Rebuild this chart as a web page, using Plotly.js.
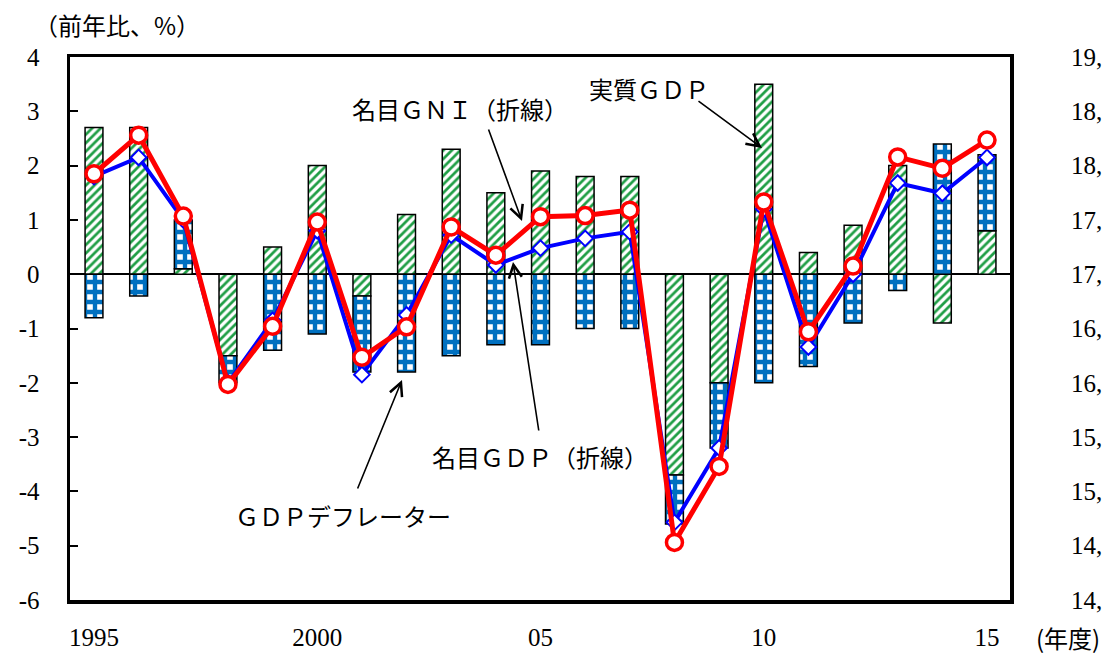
<!DOCTYPE html>
<html>
<head>
<meta charset="utf-8">
<script src="https://cdn.plot.ly/plotly-3.0.1.min.js"></script>
<style>html,body{margin:0;padding:0;background:#fff;}#chart{width:1103px;height:659px;}</style>
</head>
<body>
<div id="chart"></div>
<script>
// Fiscal years
var years = [1995,1996,1997,1998,1999,2000,2001,2002,2003,2004,2005,2006,2007,2008,2009,2010,2011,2012,2013,2014,2015];
// Real GDP growth (%), green hatched bars
var realGDP = [2.7,2.7,0.1,-1.5,0.5,2.0,-0.4,1.1,2.3,1.5,1.9,1.8,1.8,-3.7,-2.0,3.5,0.4,0.9,2.0,-0.9,0.8];
// GDP deflator (%), blue checkered bars
var deflator = [-0.8,-0.4,0.9,-0.5,-1.4,-1.1,-1.4,-1.8,-1.5,-1.3,-1.3,-1.0,-1.0,-0.9,-1.2,-2.0,-1.7,-0.9,-0.3,2.4,1.4];
// Nominal GDP (%), blue line
var nominalGDP = [1.8,2.15,1.0,-2.0,-0.85,0.8,-1.85,-0.75,0.72,0.17,0.48,0.66,0.78,-4.57,-3.2,1.2,-1.34,0.0,1.68,1.49,2.15];
// Nominal GNI (%), red line
var nominalGNI = [1.85,2.56,1.07,-2.03,-0.96,0.96,-1.53,-0.97,0.87,0.35,1.06,1.08,1.18,-4.94,-3.54,1.33,-1.06,0.15,2.16,1.95,2.47];

var xTickVals = [1995,2000,2005,2010,2015];
var xTickText = ['1995','2000','05','10','15'];
var yTickVals = [-6,-5,-4,-3,-2,-1,0,1,2,3,4];
var yTickText = ['-6','-5','-4','-3','-2','-1','0','1','2','3','4'];
// right-hand axis: only the visible part of each label is shown in the source
var y2TickText = ['14,','14,','15,','15,','16,','16,','17,','17,','18,','18,','19,'];

var numFont = {family:'Liberation Serif, serif', size:25, color:'#000'};
var jpFont = {family:'Noto Sans CJK JP, sans-serif', size:24, color:'#000'};

var traces = [
  {type:'bar', x:years, y:realGDP, width:0.4, name:'実質GDP',
   marker:{color:'#ffffff', line:{color:'#000', width:1.5},
     pattern:{shape:'/', fgcolor:'#1f9e45', bgcolor:'#ffffff', size:6, solidity:0.45}}},
  {type:'bar', x:years, y:deflator, width:0.4, name:'GDPデフレーター',
   marker:{color:'#ffffff', line:{color:'#000', width:1.5},
     pattern:{shape:'+', fgcolor:'#0070c0', bgcolor:'#ffffff', size:10, solidity:0.68}}},
  {type:'scatter', mode:'lines+markers', x:years, y:nominalGDP, name:'名目GDP',
   line:{color:'#0000ff', width:4},
   marker:{symbol:'diamond', size:12, color:'#ffffff', line:{color:'#0000ff', width:2}}},
  {type:'scatter', mode:'lines+markers', x:years, y:nominalGNI, name:'名目GNI',
   line:{color:'#ff0000', width:5},
   marker:{symbol:'circle', size:16, color:'#ffffff', line:{color:'#ff0000', width:3.5}}},
  // empty trace so the right-hand axis is drawn
  {type:'scatter', x:[null], y:[null], yaxis:'y2', showlegend:false, hoverinfo:'skip', mode:'markers'}
];

function px(x){return (x-70)/940;}
function py(y){return (600-y)/543;}

function arrow(hx,hy,tx,ty){
  return {xref:'paper', yref:'paper', x:px(hx), y:py(hy), ax:tx-hx, ay:ty-hy,
    axref:'pixel', ayref:'pixel', text:'', showarrow:true, arrowhead:5, arrowsize:1.6,
    arrowwidth:1.6, arrowcolor:'#000'};
}
function label(t,x,y,f,anchor){
  return {xref:'paper', yref:'paper', x:px(x), y:py(y), text:t, showarrow:false,
    xanchor:anchor||'center', yanchor:'middle', font:f||jpFont};
}

var layout = {
  width:1103, height:659,
  margin:{l:70, r:93, t:57, b:59},
  paper_bgcolor:'#fff', plot_bgcolor:'#fff',
  barmode:'relative', showlegend:false,
  xaxis:{range:[1994.4625,2015.515], tickvals:xTickVals, ticktext:xTickText,
    showgrid:false, zeroline:false, showline:true, mirror:true, linecolor:'#000', linewidth:3.5,
    ticks:'', ticklabelstandoff:12, tickfont:numFont},
  yaxis:{range:[-6,4], tickvals:yTickVals, ticktext:yTickText, showgrid:false,
    zeroline:true, zerolinecolor:'#000', zerolinewidth:2,
    showline:true, mirror:true, linecolor:'#000', linewidth:3.5,
    ticks:'inside', ticklen:8, tickwidth:2, tickcolor:'#000', ticklabelstandoff:22, tickfont:numFont},
  yaxis2:{overlaying:'y', side:'right', range:[-6,4], tickvals:yTickVals, ticktext:y2TickText,
    showgrid:false, zeroline:false, showline:false, ticks:'', ticklabelstandoff:60, tickfont:numFont},
  annotations:[
    label('（前年比、%）',117,25),
    label('(年度)',1102,637,null,'right'),
    label('名目ＧＮＩ（折線）',460,108),
    label('実質ＧＤＰ',649,89),
    label('名目ＧＤＰ（折線）',540,456),
    label('ＧＤＰデフレーター',343,515),
    arrow(522,221,488,128),
    arrow(762,148,697,100),
    arrow(513,262,539,432),
    arrow(402,380,357,490)
  ]
};

Plotly.newPlot('chart', traces, layout, {staticPlot:true, displayModeBar:false});
</script>
</body>
</html>
